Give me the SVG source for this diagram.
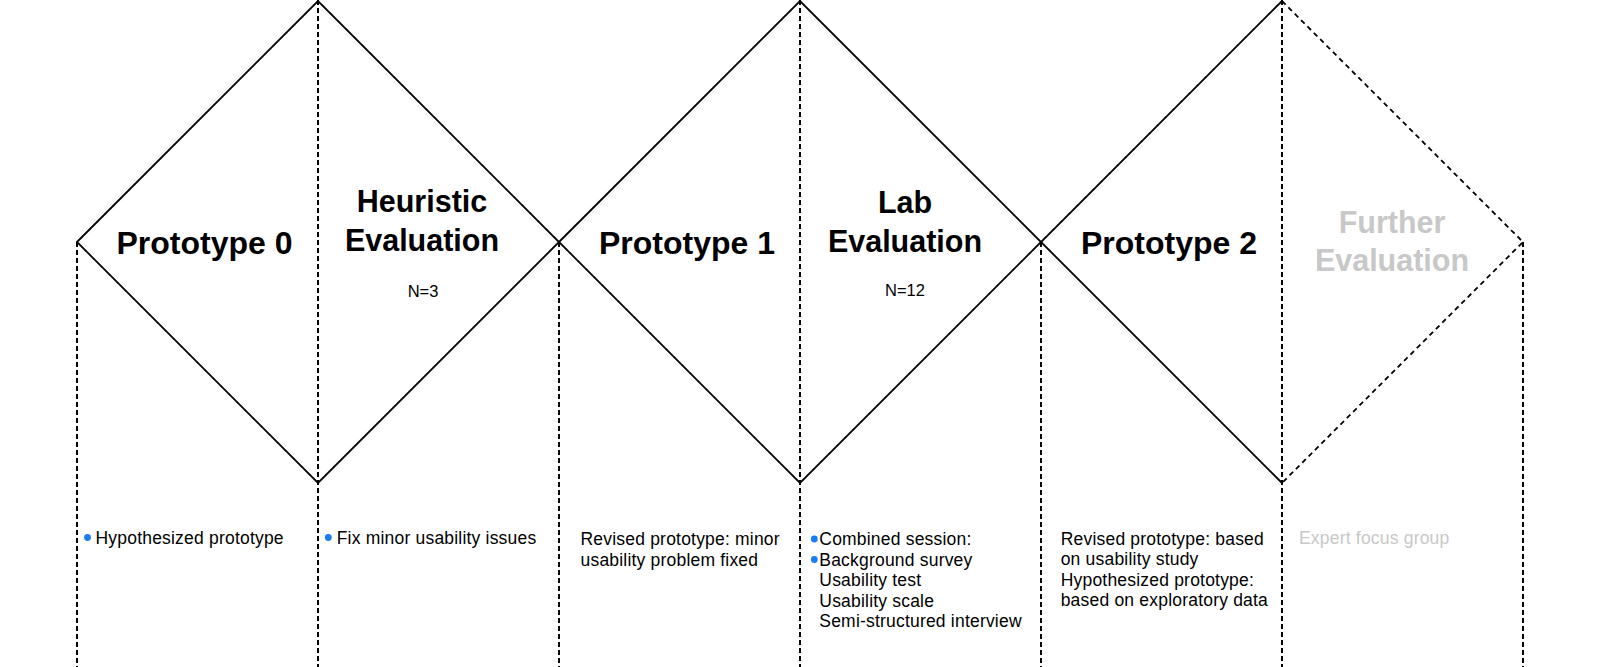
<svg xmlns="http://www.w3.org/2000/svg" width="1600" height="667" viewBox="0 0 1600 667">
<style>
.edge{fill:none;stroke:#000;stroke-width:1.8;stroke-linejoin:miter}
.edged{fill:none;stroke:#000;stroke-width:1.8;stroke-dasharray:5 4}
.guide{fill:none;stroke:#000;stroke-width:2;stroke-dasharray:5 3}
.t1{font-family:"Liberation Sans",Arial,sans-serif;font-weight:bold;font-size:32px;fill:#000;text-anchor:middle}
.t2{font-family:"Liberation Sans",Arial,sans-serif;font-weight:bold;font-size:30.5px;fill:#000;text-anchor:middle}
.n{font-family:"Liberation Sans",Arial,sans-serif;font-size:16.5px;fill:#000;text-anchor:middle}
.b{font-family:"Liberation Sans",Arial,sans-serif;font-size:17.5px;letter-spacing:0.2px;fill:#000}
.gray{fill:#c8c8c8}
.dot{fill:#1a7cf2}
</style>
<rect width="1600" height="667" fill="#fff"/>
<g id="connectors">
<line class="guide" x1="77" y1="242" x2="77" y2="667"/>
<line class="guide" x1="318" y1="0" x2="318" y2="667"/>
<line class="guide" x1="559" y1="242" x2="559" y2="667"/>
<line class="guide" x1="800" y1="0" x2="800" y2="667"/>
<line class="guide" x1="1041" y1="242" x2="1041" y2="667"/>
<line class="guide" x1="1282" y1="0" x2="1282" y2="667"/>
<line class="guide" x1="1523" y1="242" x2="1523" y2="667"/>
</g>
<g id="diamond1">
<polygon class="edge" points="77,242 318,1 559,242 318,483"/>
</g>
<g id="diamond2">
<polygon class="edge" points="559,242 800,1 1041,242 800,483"/>
</g>
<g id="diamond3">
<polyline class="edge" points="1282,1 1041,242 1282,483"/>
<polyline class="edged" points="1282,1 1523,242 1282,483"/>
</g>
<g id="prototype0">
<text class="t1" x="204.5" y="254">Prototype 0</text>
<circle class="dot" cx="87.5" cy="537.5" r="3.4"/>
<text class="b" x="95.5" y="544">Hypothesized prototype</text>
</g>
<g id="heuristic-evaluation">
<text class="t2" x="422" y="212">Heuristic</text>
<text class="t2" x="422" y="251">Evaluation</text>
<text class="n" x="423" y="296.5">N=3</text>
<circle class="dot" cx="328.3" cy="537.5" r="3.4"/>
<text class="b" x="336.7" y="544">Fix minor usability issues</text>
</g>
<g id="prototype1">
<text class="t1" x="687" y="254">Prototype 1</text>
<text class="b" x="580.5" y="545">Revised prototype: minor</text>
<text class="b" x="580.5" y="565.5">usability problem fixed</text>
</g>
<g id="lab-evaluation">
<text class="t2" x="905" y="212.5">Lab</text>
<text class="t2" x="905" y="251.5">Evaluation</text>
<text class="n" x="905" y="296">N=12</text>
<circle class="dot" cx="814.3" cy="539" r="3.4"/>
<circle class="dot" cx="814.3" cy="559.5" r="3.4"/>
<text class="b" x="819.3" y="545">Combined session:</text>
<text class="b" x="819.3" y="565.5">Background survey</text>
<text class="b" x="819.3" y="586">Usability test</text>
<text class="b" x="819.3" y="606.5">Usability scale</text>
<text class="b" x="819.3" y="627">Semi-structured interview</text>
</g>
<g id="prototype2">
<text class="t1" x="1169" y="254">Prototype 2</text>
<text class="b" x="1060.7" y="544.5">Revised prototype: based</text>
<text class="b" x="1060.7" y="565">on usability study</text>
<text class="b" x="1060.7" y="585.5">Hypothesized prototype:</text>
<text class="b" x="1060.7" y="606">based on exploratory data</text>
</g>
<g id="further-evaluation">
<text class="t2 gray" x="1392" y="233.3">Further</text>
<text class="t2 gray" x="1392" y="271">Evaluation</text>
<text class="b gray" x="1299" y="544">Expert focus group</text>
</g>
</svg>
